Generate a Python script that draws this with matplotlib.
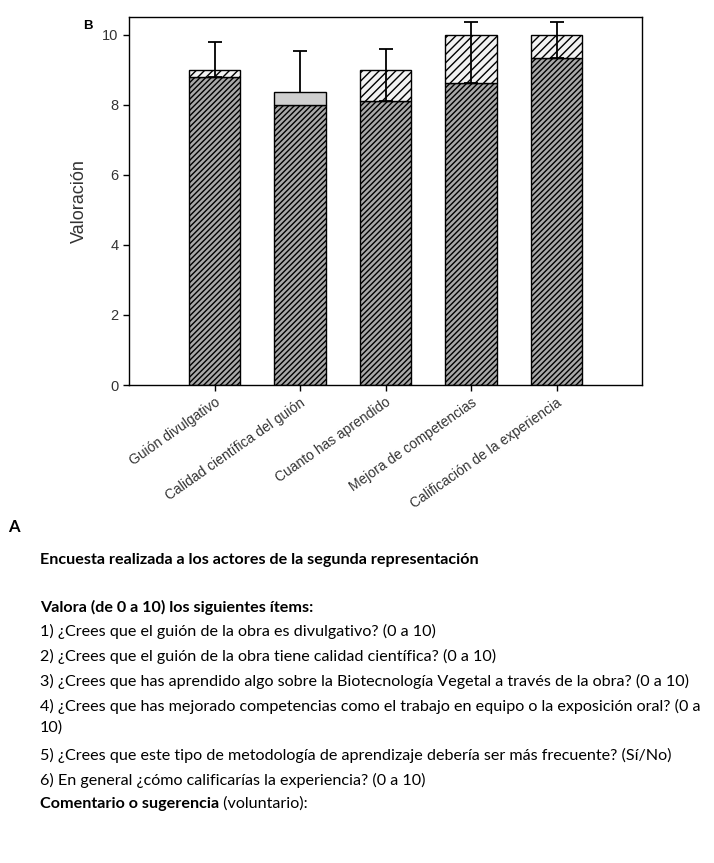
import matplotlib
matplotlib.use("Agg")
import matplotlib.pyplot as plt
import numpy as np

# survey scores (0-10)
items = ["Guión divulgativo", "Calidad científica del guión", "Cuanto has aprendido",
         "Mejora de competencias", "Calificación de la experiencia"]
lower = [8.8, 8.0, 8.09, 8.63, 9.34]
upper = [9.0, 8.37, 9.0, 10.0, 10.0]
sd = [1.0, 1.54, 1.5, 1.74, 1.03]

survey_title = "Encuesta realizada a los actores de la segunda representación"
survey_head = "Valora (de 0 a 10) los siguientes ítems:"
questions = [
    "1) ¿Crees que el guión de la obra es divulgativo? (0 a 10)",
    "2) ¿Crees que el guión de la obra tiene calidad científica? (0 a 10)",
    "3) ¿Crees que has aprendido algo sobre la Biotecnología Vegetal a través de la obra? (0 a 10)",
    "4) ¿Crees que has mejorado competencias como el trabajo en equipo o la exposición oral? (0 a",
    "10)",
    "5) ¿Crees que este tipo de metodología de aprendizaje debería ser más frecuente? (Sí/No)",
    "6) En general ¿cómo calificarías la experiencia? (0 a 10)",
]
comment_bold = "Comentario o sugerencia"
comment_rest = " (voluntario):"

plt.rcParams['hatch.linewidth'] = 1.0
W, H = 714, 863
fig = plt.figure(figsize=(W / 100, H / 100), dpi=100)
ax = fig.add_axes([129 / W, 1 - 385 / H, (642 - 129) / W, (385 - 17) / H])

x = np.arange(len(items))
low = np.array(lower)
up = np.array(upper)

ax.bar(x, low, width=0.6, color="#a8a8a8", edgecolor="black", hatch="//////",
       linewidth=1.0, zorder=2)
tops = ax.bar(x, up - low, bottom=low, width=0.6, color="#f2f2f2", edgecolor="black",
              hatch="////", linewidth=1.0, zorder=2)
# second item: plain grey cap
tops[1].set_hatch(None)
tops[1].set_facecolor("#cfcfcf")
tops[1].set_zorder(4)
ax.errorbar(x, low, yerr=[np.zeros(len(x)), sd], fmt="none", ecolor="black",
            elinewidth=1.3, capsize=5, capthick=1.3, zorder=3)

ax.set_xlim(-1, 5)
ax.set_ylim(0, 10.5)
ax.set_yticks([0, 2, 4, 6, 8, 10])
ax.set_xticks(x)
ax.set_xticklabels(items, rotation=35, ha="right", va="top", rotation_mode="anchor",
                   fontsize=10, family="Liberation Sans", color="#333333")
for lab in ax.get_yticklabels():
    lab.set_family("Liberation Sans")
    lab.set_fontsize(10.5)
    lab.set_color("#333333")
ax.tick_params(direction="out", length=4, width=1)
ax.set_ylabel("Valoración", fontsize=13, family="Liberation Sans", labelpad=10,
              color="#333333")
for s in ax.spines.values():
    s.set_linewidth(1.0)
ax.text(-0.08, 0.975, "B", transform=ax.transAxes, fontsize=9.5, fontweight="bold",
        family="Liberation Sans", ha="center", va="center")

# survey text (panel A)
def fy(py):
    return 1 - py / H

fs = 11.6
fig.text(8 / W, fy(527), "A", fontsize=12, fontweight="bold", family="Lato", va="center")
fig.text(40 / W, fy(560), survey_title, fontsize=fs, fontweight="bold", family="Lato", va="center")
fig.text(40 / W, fy(607), survey_head, fontsize=fs, fontweight="bold", family="Lato", va="center")
ys = [631, 656, 681, 706, 728, 755, 780]
for q, py in zip(questions, ys):
    fig.text(40 / W, fy(py), q, fontsize=fs, family="Lato", va="center")
t = fig.text(40 / W, fy(804), comment_bold, fontsize=fs, fontweight="bold", family="Lato", va="center")
fig.canvas.draw()
bb = t.get_window_extent()
fig.text(bb.x1 / W, fy(804), comment_rest, fontsize=fs, family="Lato", va="center")

fig.savefig("out.png", dpi=100)
